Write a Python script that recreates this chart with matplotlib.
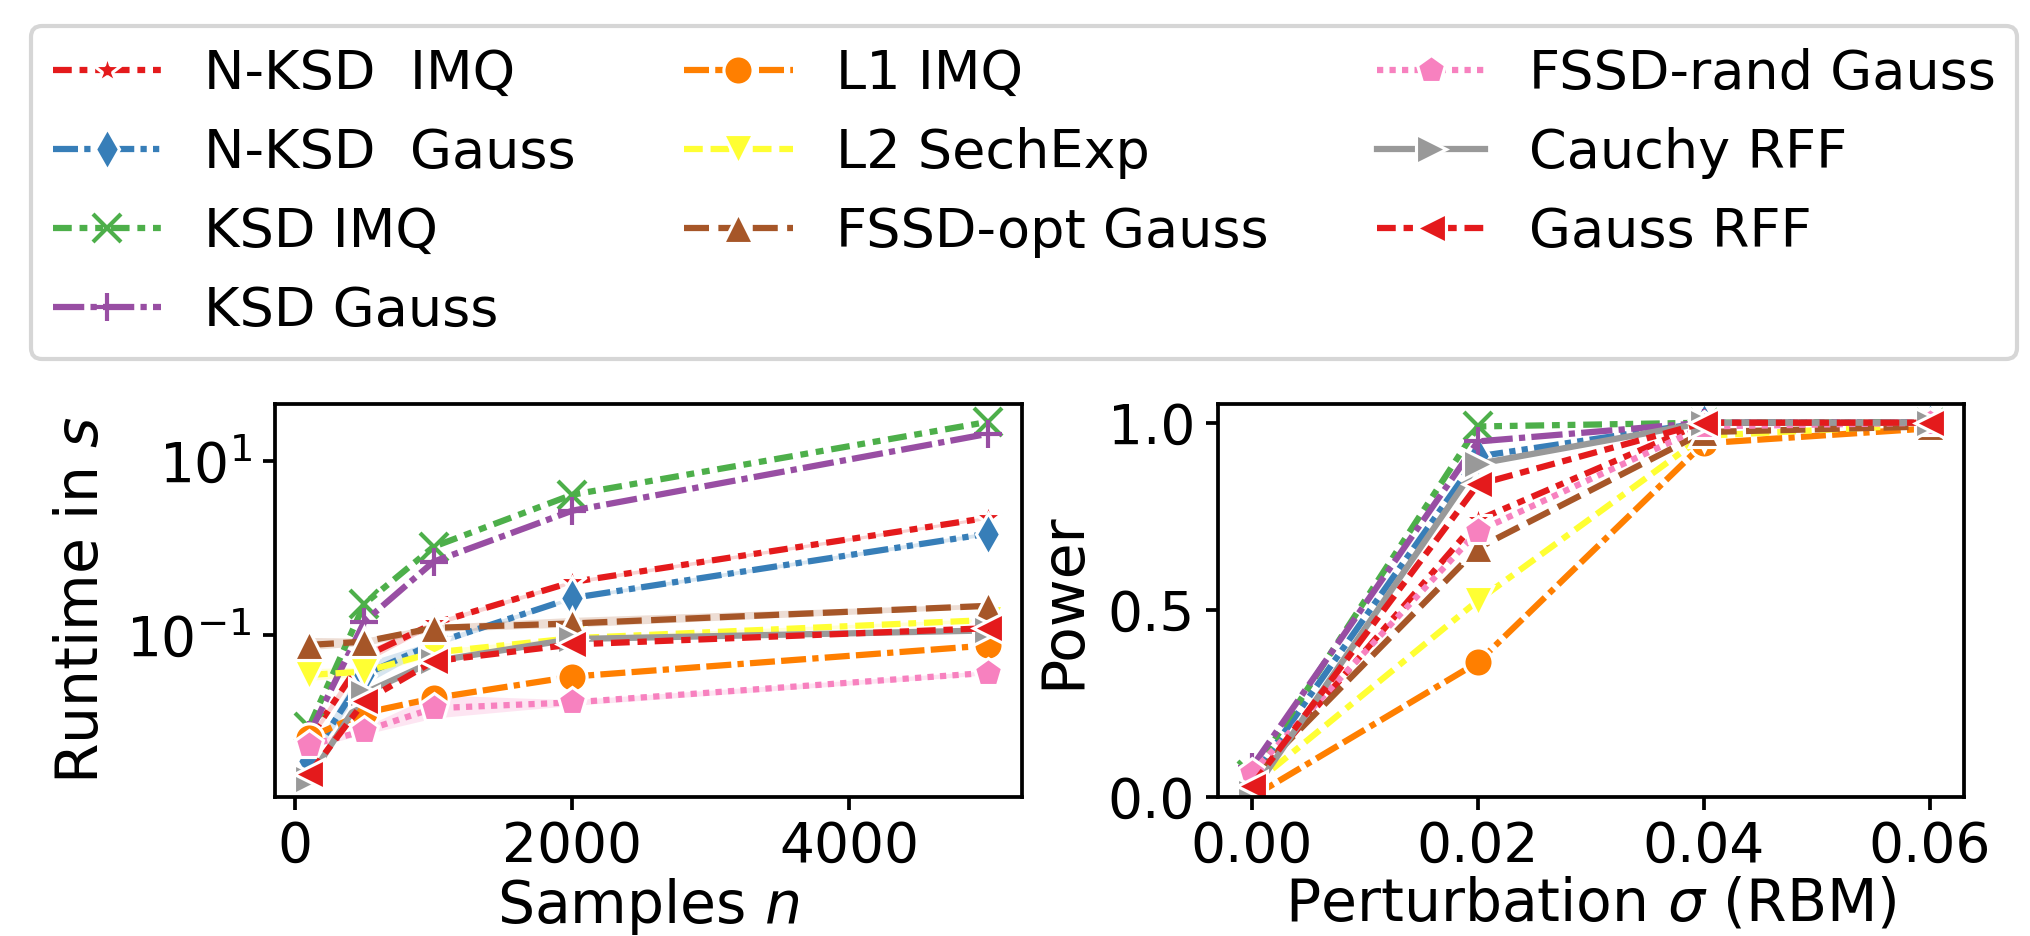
import numpy as np
import matplotlib
matplotlib.use("Agg")
import matplotlib.pyplot as plt
from matplotlib.ticker import NullLocator

# method names, legend order (3 columns: 4 / 3 / 3)
methods = ["N-KSD  IMQ", "N-KSD  Gauss", "KSD IMQ", "KSD Gauss", "L1 IMQ",
           "L2 SechExp", "FSSD-opt Gauss", "FSSD-rand Gauss", "Cauchy RFF", "Gauss RFF"]

# Set1 palette, wraps around for the 10th entry
colors = ["#e41a1c", "#377eb8", "#4daf4a", "#984ea3", "#ff7f00",
          "#ffff33", "#a65628", "#f781bf", "#999999", "#e41a1c"]
markers = ["*", "d", "x", "+", "o", "v", "^", "p", ">", "<"]
dashes = [(3, 1.25, 1.25, 1.25, 1.25, 1.25), (4, 1, 1, 1, 1, 1),
          (3, 1.25, 1.25, 1.25, 1.25, 1.25), (5, 1, 1, 1), (4, 1, 4, 1, 1, 1),
          (3, 1.25, 3, 1.25, 1.25, 1.25), (4, 1.5), (1, 1), None, (3, 1.25, 1.5, 1.25)]

# left panel: runtime vs. sample size
n_samples = [100, 500, 1000, 2000, 5000]
runtime = {
    "N-KSD  IMQ":      [0.0063, 0.0565, 0.136, 0.408, 2.24],
    "N-KSD  Gauss":    [0.0036, 0.035, 0.080, 0.267, 1.47],
    "KSD IMQ":         [0.0087, 0.228, 1.04, 4.12, 28.4],
    "KSD Gauss":       [0.0071, 0.143, 0.70, 2.70, 20.7],
    "L1 IMQ":          [0.0066, 0.0127, 0.0188, 0.0333, 0.076],
    "L2 SechExp":      [0.0348, 0.038, 0.063, 0.092, 0.149],
    "FSSD-opt Gauss":  [0.077, 0.084, 0.121, 0.136, 0.217],
    "FSSD-rand Gauss": [0.0054, 0.0079, 0.0144, 0.0168, 0.0368],
    "Cauchy RFF":      [0.0022, 0.0215, 0.050, 0.090, 0.113],
    "Gauss RFF":       [0.0025, 0.0173, 0.050, 0.078, 0.120],
}
# visible confidence bands (lower, upper)
runtime_band = {
    "FSSD-opt Gauss":  ([0.068, 0.076, 0.110, 0.124, 0.205], [0.094, 0.092, 0.132, 0.160, 0.230]),
    "FSSD-rand Gauss": ([0.0050, 0.0072, 0.0111, 0.0155, 0.035], [0.0058, 0.0088, 0.0205, 0.018, 0.039]),
    "L2 SechExp":      ([0.030, 0.034, 0.058, 0.088, 0.142], [0.041, 0.043, 0.068, 0.096, 0.156]),
    "N-KSD  Gauss":    ([0.0033, 0.027, 0.074, 0.255, 1.40], [0.0039, 0.048, 0.086, 0.280, 1.55]),
    "N-KSD  IMQ":      ([0.0058, 0.048, 0.128, 0.39, 2.15], [0.0068, 0.066, 0.145, 0.43, 2.33]),
}

# right panel: power vs. perturbation
sigma = [0.0, 0.02, 0.04, 0.06]
power = {
    "N-KSD  IMQ":      [0.04, 0.74, 1.0, 1.0],
    "N-KSD  Gauss":    [0.05, 0.91, 1.0, 1.0],
    "KSD IMQ":         [0.06, 0.99, 1.0, 1.0],
    "KSD Gauss":       [0.08, 0.95, 1.0, 1.0],
    "L1 IMQ":          [0.0, 0.36, 0.945, 0.985],
    "L2 SechExp":      [0.03, 0.525, 0.965, 0.995],
    "FSSD-opt Gauss":  [0.05, 0.665, 0.975, 0.99],
    "FSSD-rand Gauss": [0.065, 0.71, 0.99, 1.0],
    "Cauchy RFF":      [0.01, 0.89, 1.0, 1.0],
    "Gauss RFF":       [0.03, 0.835, 1.0, 1.0],
}

TICK_FS = 13.2
LEG_FS = 13.0
LABEL_FS = 14.0
LW = 1.5
MS = 7


def draw(ax, x, ydict, bands=None):
    handles = []
    for i, name in enumerate(methods):
        c = colors[i]
        unfilled = markers[i] in ("x", "+")
        ln, = ax.plot(x, ydict[name], color=c, lw=LW, marker=markers[i],
                      ms=MS - (0.5 if unfilled else 0),
                      mec=c if unfilled else "w",
                      mew=1.0 if unfilled else 0.75, label=name)
        if dashes[i] is not None:
            ln.set_dashes(dashes[i])
        if bands is not None and name in bands:
            lo, hi = bands[name]
            ax.fill_between(x, lo, hi, color=c, alpha=0.2, lw=0)
        handles.append(ln)
    return handles


fig = plt.figure(figsize=(6.77, 3.12), dpi=300)
ax1 = fig.add_axes([275 / 2031, 1 - 797 / 936, 747 / 2031, 393 / 936])
ax2 = fig.add_axes([1218 / 2031, 1 - 797 / 936, 746 / 2031, 393 / 936])

handles = draw(ax1, n_samples, runtime, runtime_band)
ax1.set_yscale("log")
ax1.set_yticks([1e-1, 1e1])
ax1.yaxis.set_minor_locator(NullLocator())
ax1.set_xticks([0, 2000, 4000])
ax1.set_xlabel("Samples $n$", fontsize=LABEL_FS, labelpad=0.5)
ax1.set_ylabel("Runtime in $s$", fontsize=LABEL_FS)

draw(ax2, sigma, power)
ax2.set_ylim(0, 1.05)
ax2.set_xticks([0.0, 0.02, 0.04, 0.06])
ax2.set_yticks([0.0, 0.5, 1.0])
ax2.set_xlabel("Perturbation $\\sigma$ (RBM)", fontsize=LABEL_FS, labelpad=0.5)
ax2.set_ylabel("Power", fontsize=LABEL_FS)

for ax in (ax1, ax2):
    ax.tick_params(labelsize=TICK_FS, length=3, width=0.9, pad=2.5)
    for sp in ax.spines.values():
        sp.set_linewidth(0.9)

fig.legend(handles=handles, loc="upper center", bbox_to_anchor=(1024 / 2031, 0.972),
           ncol=3, fontsize=LEG_FS, borderaxespad=0, fancybox=True, framealpha=0.8)

fig.savefig("out.png", dpi=300)
